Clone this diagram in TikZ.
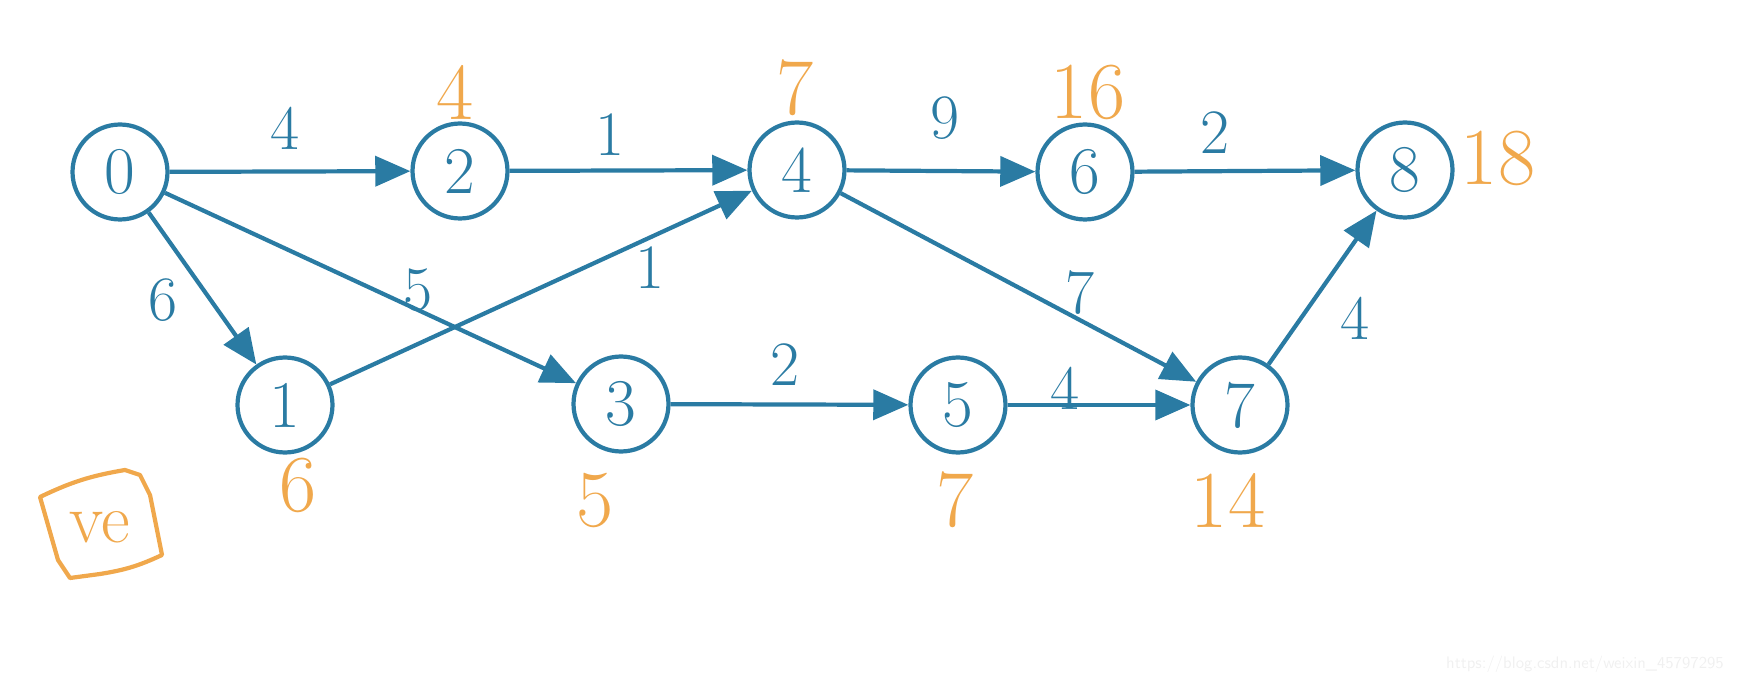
\documentclass[tikz,border=0pt]{standalone}
\usepackage{tikz}
\usetikzlibrary{arrows.meta}
\definecolor{inkblue}{HTML}{2A7BA3}
\definecolor{inkorange}{HTML}{F0A84C}
\tikzset{
  vertex/.style={
    circle,
    draw=inkblue,
    line width=2.4pt,
    minimum size=1.9cm,
    inner sep=0pt,
    text=inkblue,
    font=\fontsize{38}{40}\selectfont,
  },
  edge/.style={
    draw=inkblue,
    line width=2.4pt,
    -{Triangle[length=20pt,width=17pt]},
  },
  weight/.style={
    text=inkblue,
    font=\fontsize{36}{40}\selectfont,
  },
  early/.style={
    text=inkorange,
    font=\fontsize{46}{50}\selectfont,
  }
}

\begin{document}
\begin{tikzpicture}[x=0.02cm,y=-0.02cm]
\useasboundingbox (0,0) rectangle (1739,682);

% vertices
\node[vertex] (v0) at (120,172) {0};
\node[vertex] (v2) at (460,171) {2};
\node[vertex] (v4) at (797,170) {4};
\node[vertex] (v6) at (1085,172) {6};
\node[vertex] (v8) at (1405,170) {8};
\node[vertex] (v1) at (285,405) {1};
\node[vertex] (v3) at (621,404) {3};
\node[vertex] (v5) at (958,405) {5};
\node[vertex] (v7) at (1240,405) {7};

% activities
\draw[edge] (v0) -- (v2);
\draw[edge] (v2) -- (v4);
\draw[edge] (v4) -- (v6);
\draw[edge] (v6) -- (v8);
\draw[edge] (v0) -- (v1);
\draw[edge] (v0) -- (v3);
\draw[edge] (v1) -- (v4);
\draw[edge] (v3) -- (v5);
\draw[edge] (v5) -- (v7);
\draw[edge] (v4) -- (v7);
\draw[edge] (v7) -- (v8);

% durations
\node[weight] (w02) at (285,128) {4};
\node[weight] (w24) at (610,135) {1};
\node[weight] (w46) at (945,118) {9};
\node[weight] (w68) at (1215,133) {2};
\node[weight] (w01) at (163,300) {6};
\node[weight] (w03) at (418,290) {5};
\node[weight] (w14) at (650,268) {1};
\node[weight] (w35) at (785,365) {2};
\node[weight] (w57) at (1065,388) {4};
\node[weight] (w47) at (1080,293) {7};
\node[weight] (w78) at (1355,318) {4};

% earliest times
\node[early] (e2) at (455,92) {4};
\node[early] (e4) at (795,88) {7};
\node[early] (e6) at (1088,92) {16};
\node[early] (e8) at (1498,158) {18};
\node[early] (e1) at (298,485) {6};
\node[early] (e3) at (595,500) {5};
\node[early] (e5) at (955,500) {7};
\node[early] (e7) at (1228,500) {14};

% ve box
\node[early,font=\fontsize{40}{44}\selectfont] (ve) at (100,527) {ve};
\draw[inkorange,line width=2.4pt,line join=round]
  (40,497) to[bend left=8] (125,470) -- (140,475) -- (150,495)
  -- (162,555) to[bend left=8] (100,574) -- (70,578) -- (58,560) -- cycle;

% watermark
\node[anchor=east,text=black!6,font=\sffamily\fontsize{9.5}{11}\selectfont]
  (wm) at (1730,664) {https://blog.csdn.net/weixin\_45797295};
\end{tikzpicture}
\end{document}
